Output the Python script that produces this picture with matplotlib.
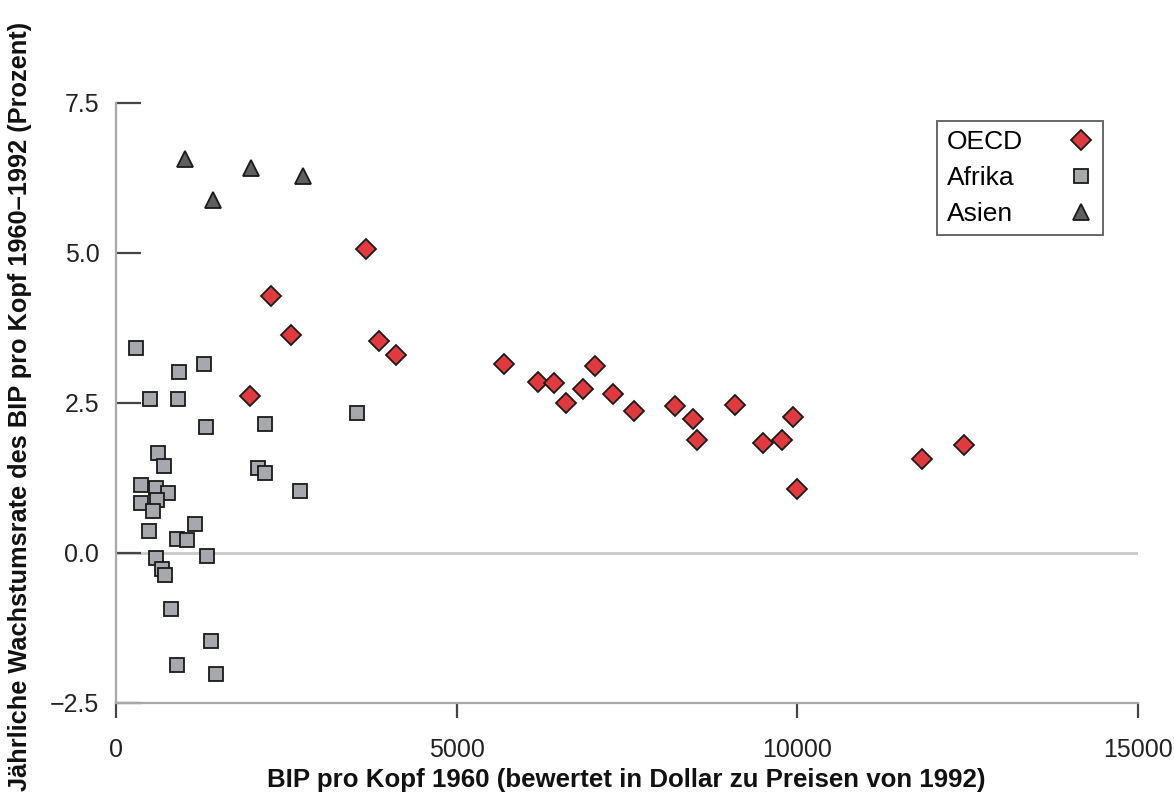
import matplotlib
matplotlib.use("Agg")
import matplotlib.pyplot as plt

plt.rcParams['font.family'] = ['Liberation Sans', 'DejaVu Sans']

# Data (BIP pro Kopf 1960, jährliche Wachstumsrate 1960-1992 in %)
oecd_x = [3670, 2275, 2569, 3860, 4110, 1967, 5695, 6194, 6429, 6605, 6855, 7031,
          7295, 7603, 8205, 8469, 8528, 9086, 9497, 9776, 9937, 9996, 11830, 12447]
oecd_y = [5.07, 4.28, 3.63, 3.53, 3.30, 2.62, 3.15, 2.85, 2.83, 2.50, 2.73, 3.12,
          2.65, 2.37, 2.45, 2.23, 1.88, 2.47, 1.83, 1.88, 2.27, 1.07, 1.57, 1.80]

afrika_x = [294, 925, 1292, 499, 910, 1321, 2187, 3537, 616, 705, 2084, 2187, 2700,
            367, 587, 763, 367, 602, 543, 484, 1160, 895, 1042, 587, 1336, 675, 719,
            807, 1394, 895, 1468]
afrika_y = [3.42, 3.02, 3.15, 2.57, 2.57, 2.10, 2.15, 2.33, 1.67, 1.45, 1.42, 1.33, 1.03,
            1.13, 1.08, 1.00, 0.83, 0.88, 0.70, 0.37, 0.48, 0.23, 0.22, -0.08, -0.05,
            -0.27, -0.37, -0.93, -1.47, -1.87, -2.02]

asien_x = [1013, 1424, 1981, 2745]
asien_y = [6.57, 5.88, 6.42, 6.28]

x_ticks = [0, 5000, 10000, 15000]
y_ticks = [-2.5, 0.0, 2.5, 5.0, 7.5]

xlabel = "BIP pro Kopf 1960 (bewertet in Dollar zu Preisen von 1992)"
ylabel = "Jährliche Wachstumsrate des BIP pro Kopf 1960–1992 (Prozent)"

fig = plt.figure(figsize=(11.74, 7.99), dpi=100)
ax = fig.add_axes([116/1174, 1 - 703/799, (1138-116)/1174, 600/799])

ax.axhline(0, color='#c8c8c8', lw=2, zorder=0)

ax.plot(oecd_x, oecd_y, linestyle='none', marker='D', markersize=10.5,
        markerfacecolor='#e03a3e', markeredgecolor='#1a1a1a', markeredgewidth=1.3,
        label='OECD', clip_on=False, zorder=3)
ax.plot(afrika_x, afrika_y, linestyle='none', marker='s', markersize=10.5,
        markerfacecolor='#a7a8ad', markeredgecolor='#1a1a1a', markeredgewidth=1.3,
        label='Afrika', clip_on=False, zorder=3)
ax.plot(asien_x, asien_y, linestyle='none', marker='^', markersize=12,
        markerfacecolor='#5f5f5f', markeredgecolor='#1a1a1a', markeredgewidth=1.3,
        label='Asien', clip_on=False, zorder=3)

ax.set_xlim(0, 15000)
ax.set_ylim(-2.5, 7.5)
ax.set_xticks(x_ticks)
ax.set_xticklabels([str(v) for v in x_ticks])
ax.set_yticks(y_ticks)
ax.set_yticklabels([f"{v:.1f}".replace('-', '\u2212') for v in y_ticks])

for s in ['top', 'right']:
    ax.spines[s].set_visible(False)
for s in ['left', 'bottom']:
    ax.spines[s].set_color('#a8a8a8')
    ax.spines[s].set_linewidth(1.6)

ax.tick_params(axis='y', direction='in', length=18, width=1.6, color='#444444',
               labelsize=18, labelcolor='#222222', pad=12)
ax.tick_params(axis='x', direction='out', length=11, width=1.6, color='#444444',
               labelsize=18, labelcolor='#222222', pad=14)

ax.set_xlabel(xlabel, fontsize=18.6, fontweight='bold', color='#111111')
ax.set_ylabel(ylabel, fontsize=18.3, fontweight='bold', color='#111111')
ax.xaxis.set_label_coords(0.499, -0.108)
ax.yaxis.set_label_coords(-0.082, 0.494)

leg_fs = 19
leg = ax.legend(loc='upper right', bbox_to_anchor=(0.966, 0.97), markerfirst=False,
                fontsize=leg_fs, frameon=True, fancybox=False, borderpad=0.35,
                labelspacing=0.45, handletextpad=1.6, borderaxespad=0, handlelength=1.0)
leg.get_frame().set_edgecolor('#333333')
leg.get_frame().set_linewidth(1.3)

# left-align the labels while keeping the markers in a right-hand column
fig.canvas.draw()
renderer = fig.canvas.get_renderer()
widths = [t.get_window_extent(renderer).width for t in leg.get_texts()]
maxw = max(widths)
col = leg._legend_handle_box.get_children()[0]
base_sep = 1.7 * leg_fs
for row, w in zip(col.get_children(), widths):
    row.sep = base_sep + (maxw - w) * 72.0 / fig.dpi
for t in leg.get_texts():
    t.set_horizontalalignment('left')

fig.savefig('out.png', dpi=100)
